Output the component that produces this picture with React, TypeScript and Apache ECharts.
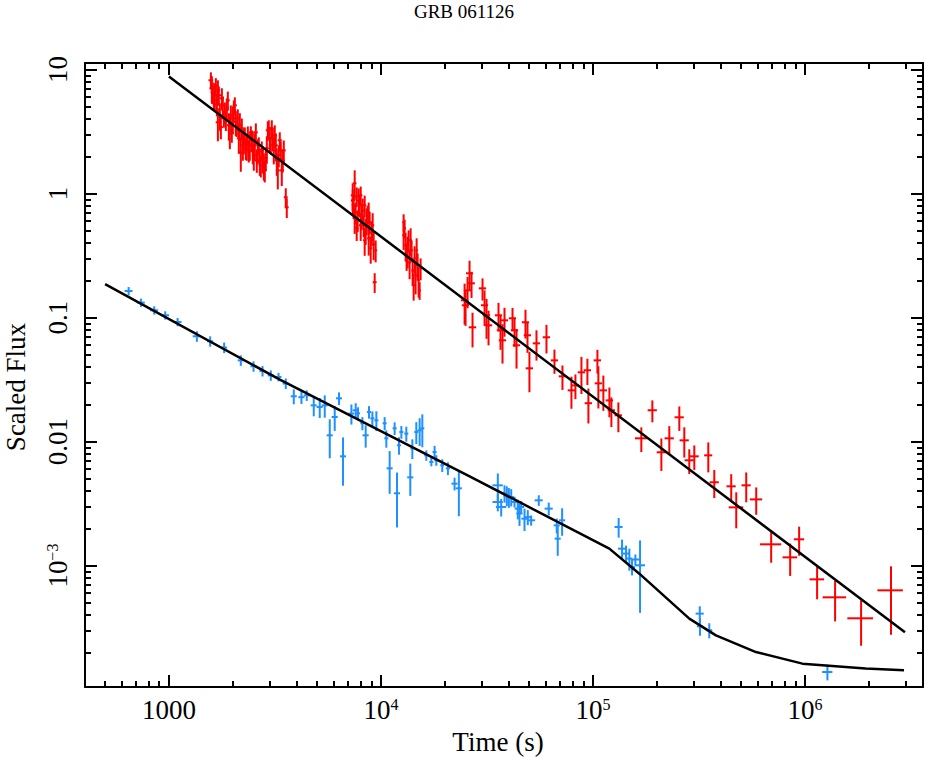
import React, { useEffect, useRef } from "react";
import * as echarts from "echarts";

// ---------- data (time [s], time half-width [s], scaled flux, flux error) ----------
const redOrbit1: number[][] = [
  [1577, 40, 8.2, 1.3], [1612, 40, 6.56, 1.3], [1629, 40, 5.65, 1.0], [1665, 40, 7.33, 1.2],
  [1684, 40, 5.25, 1.05], [1720, 40, 6.21, 1.1], [1739, 40, 4.28, 1.07], [1758, 40, 3.43, 0.69],
  [1796, 40, 5.15, 0.93], [1836, 40, 4.53, 0.9], [1856, 40, 3.9, 0.7], [1896, 40, 5.65, 1.0],
  [1917, 45, 3.56, 0.89], [1959, 45, 4.28, 0.86], [1980, 45, 3.06, 0.49], [2024, 45, 4.7, 0.94],
  [2068, 45, 3.76, 0.86], [2113, 45, 4.05, 0.73], [2136, 45, 2.79, 0.7], [2183, 50, 2.15, 0.65],
  [2207, 50, 3.36, 0.67], [2256, 50, 2.69, 0.62], [2305, 50, 2.32, 0.46], [2356, 50, 2.95, 0.53],
  [2407, 55, 2.45, 0.61], [2460, 55, 2.69, 0.54], [2514, 55, 2.04, 0.51], [2570, 55, 3.12, 0.56],
  [2626, 60, 2.23, 0.51], [2683, 60, 1.85, 0.46], [2742, 60, 2.23, 0.4], [2803, 60, 1.69, 0.42],
  [2864, 65, 1.93, 0.39], [2927, 65, 3.24, 0.58], [2991, 65, 2.79, 0.64], [3056, 65, 3.36, 0.54],
  [3123, 70, 2.23, 0.51], [3192, 70, 2.45, 0.61], [3262, 70, 1.54, 0.46], [3297, 70, 2.04, 0.41],
  [3370, 75, 2.23, 0.4], [3443, 75, 1.85, 0.37], [3557, 75, 0.934, 0.17], [3596, 75, 0.775, 0.14],
  [1594, 40, 7.07, 1.77], [1647, 40, 6.21, 1.55], [1702, 40, 6.8, 1.39], [1702, 40, 3.76, 1.12],
  [1777, 40, 5.87, 1.2], [1816, 40, 4.05, 0.65], [1876, 40, 4.87, 0.99], [1938, 45, 3.24, 0.96],
  [2002, 45, 4.05, 1.01], [2046, 45, 5.15, 0.82], [2091, 45, 3.24, 0.38], [2160, 50, 3.56, 0.89],
  [2232, 50, 2.45, 0.61], [2280, 50, 2.95, 0.47], [2330, 50, 2.45, 0.61], [2381, 55, 2.23, 0.45],
  [2434, 55, 3.12, 0.37], [2487, 55, 2.45, 0.73], [2542, 55, 2.45, 0.61], [2597, 60, 1.85, 0.38],
  [2654, 60, 2.45, 0.39], [2713, 60, 1.69, 0.34], [2772, 60, 1.93, 0.48], [2833, 65, 1.54, 0.31],
  [2895, 65, 2.32, 0.58], [2958, 65, 3.36, 0.54], [3023, 65, 2.45, 0.39], [3090, 70, 2.79, 0.57],
  [3157, 70, 2.95, 0.6], [3227, 70, 1.85, 0.46], [3333, 75, 2.69, 0.43], [3406, 75, 1.54, 0.39],
  [3481, 75, 2.23, 0.45],
];

const redOrbit2: number[][] = [
  [7518, 150, 1.21, 0.33], [7360, 150, 0.88, 0.2], [7436, 150, 0.804, 0.18], [7601, 150, 0.706, 0.14],
  [7684, 150, 0.951, 0.17], [7768, 150, 0.61, 0.12], [7938, 150, 0.804, 0.16], [8025, 150, 0.969, 0.17],
  [8112, 150, 0.668, 0.16], [8290, 150, 0.555, 0.11], [8380, 150, 0.804, 0.16], [8472, 150, 0.506, 0.12],
  [8658, 150, 0.668, 0.13], [8752, 150, 0.436, 0.12], [8847, 150, 0.587, 0.12], [9041, 150, 0.487, 0.11],
  [9239, 150, 0.39, 0.1], [9340, 200, 0.193, 0.035],
  [7357, 150, 0.969, 0.24], [7518, 150, 0.633, 0.16], [7684, 150, 0.525, 0.11], [7852, 150, 0.88, 0.22],
  [8025, 150, 0.555, 0.14], [8200, 150, 0.73, 0.18], [8380, 150, 0.42, 0.105], [8565, 150, 0.61, 0.15],
  [8752, 150, 0.706, 0.14], [8944, 150, 0.362, 0.09], [9139, 150, 0.555, 0.14], [9441, 150, 0.349, 0.07],
];

const redOrbit3: number[][] = [
  [12790, 200, 0.461, 0.11], [12930, 200, 0.525, 0.09], [13070, 200, 0.383, 0.1], [13210, 200, 0.318, 0.08],
  [13500, 200, 0.42, 0.085], [13650, 200, 0.279, 0.075], [13950, 200, 0.349, 0.07], [14100, 200, 0.24, 0.06],
  [14410, 200, 0.301, 0.075], [14570, 200, 0.219, 0.065], [14890, 200, 0.264, 0.065], [15050, 200, 0.2, 0.055],
  [15380, 200, 0.25, 0.05],
  [12790, 200, 0.587, 0.094], [13360, 200, 0.349, 0.1], [13800, 200, 0.42, 0.105], [14260, 200, 0.182, 0.045],
  [14730, 200, 0.349, 0.087], [15220, 200, 0.166, 0.027],
];

const redLate: number[][] = [
  [24800, 1000, 0.1379, 0.05], [25610, 1000, 0.166, 0.047], [26170, 1000, 0.2277, 0.06], [26740, 1000, 0.189, 0.045],
  [25060, 1000, 0.1257, 0.04], [27030, 1100, 0.0835, 0.026], [30130, 1200, 0.1722, 0.035], [30800, 1200, 0.1257, 0.04],
  [31470, 1250, 0.1044, 0.037], [32160, 1300, 0.0867, 0.027], [35840, 1400, 0.1044, 0.027], [36630, 1450, 0.079, 0.024],
  [37430, 1500, 0.0656, 0.023], [38250, 1500, 0.0951, 0.025], [41730, 1650, 0.0987, 0.021], [42640, 1700, 0.079, 0.021],
  [43580, 1750, 0.0598, 0.021], [48040, 1900, 0.0917, 0.024], [49090, 1950, 0.072, 0.02], [50140, 2000, 0.039, 0.014],
  [54130, 2150, 0.062, 0.017], [60330, 2400, 0.0694, 0.018], [65800, 2600, 0.0452, 0.01], [71770, 2850, 0.0336, 0.0075],
  [79120, 3150, 0.0259, 0.0075], [82620, 3300, 0.0284, 0.0064], [88190, 3500, 0.0362, 0.012], [94100, 3750, 0.0376, 0.009],
  [95120, 3800, 0.0204, 0.0064], [104900, 4200, 0.0452, 0.0098], [106000, 4200, 0.0295, 0.011], [111900, 4500, 0.0259, 0.0082],
  [119500, 4800, 0.0215, 0.0058], [122100, 4900, 0.0179, 0.0048], [131700, 5300, 0.0163, 0.0044], [169000, 11300, 0.01063, 0.0024],
  [190500, 9500, 0.0179, 0.0036], [210100, 10500, 0.0082, 0.0024], [229000, 11500, 0.01063, 0.0027], [255300, 12800, 0.0157, 0.0035],
  [269500, 13500, 0.01024, 0.0028], [284500, 14200, 0.00707, 0.0016], [300400, 15000, 0.00761, 0.0017], [349700, 15400, 0.00775, 0.0021],
  [373200, 18700, 0.0047, 0.0012], [448600, 22400, 0.00436, 0.0011], [473800, 37400, 0.00295, 0.00095], [528000, 26400, 0.00444, 0.0012],
  [588500, 39400, 0.00342, 0.00085], [692200, 79600, 0.001485, 0.00043], [850800, 67200, 0.001166, 0.00034], [937900, 52500, 0.00163, 0.00043],
  [1140000, 90000, 0.000775, 0.00024], [1386000, 176000, 0.000555, 0.0002], [1838000, 255000, 0.000376, 0.00015], [2544000, 350000, 0.000632, 0.000355],
];

const bluePoints: number[][] = [
  [645.7, 28, 0.1638, 0.0126], [738, 32, 0.1321, 0.0102], [852.5, 37, 0.1145, 0.0088], [960.7, 42, 0.1044, 0.008],
  [1099, 48, 0.0922, 0.0071], [1355, 60, 0.0707, 0.0069], [1565, 52, 0.0644, 0.0062], [1822, 60, 0.0573, 0.0056],
  [2183, 72, 0.0452, 0.0044], [2506, 83, 0.0405, 0.0039], [2763, 91, 0.0371, 0.0036], [3023, 100, 0.0342, 0.0033],
  [3287, 108, 0.0332, 0.0026], [3557, 117, 0.0294, 0.0029], [3880, 128, 0.0232, 0.0032], [4218, 139, 0.0228, 0.0027],
  [4467, 147, 0.0236, 0.0023], [4820, 159, 0.0196, 0.0036], [5144, 170, 0.019, 0.0035], [5431, 179, 0.0196, 0.004],
  [5734, 189, 0.01124, 0.0039], [6052, 200, 0.0158, 0.0036], [6343, 209, 0.02234, 0.0026], [6622, 218, 0.00761, 0.0032],
  [7254, 239, 0.01682, 0.0031], [7601, 250, 0.01788, 0.0025], [7793, 171, 0.01691, 0.002], [8172, 180, 0.01405, 0.0017],
  [8471, 280, 0.01124, 0.0023], [8780, 193, 0.01733, 0.002], [9109, 200, 0.01541, 0.0021], [9513, 209, 0.01485, 0.0027],
  [10410, 229, 0.01405, 0.0017], [10600, 233, 0.01063, 0.0017], [10990, 363, 0.00609, 0.0023], [11600, 255, 0.0128, 0.0015],
  [11900, 393, 0.00383, 0.0018], [12160, 268, 0.00934, 0.0015], [12480, 275, 0.01195, 0.0014], [13170, 290, 0.0116, 0.0016],
  [13750, 454, 0.00515, 0.0015], [14060, 309, 0.00883, 0.0016], [14680, 323, 0.01195, 0.0024], [15220, 335, 0.01233, 0.0031],
  [15670, 345, 0.0128, 0.0038], [16360, 360, 0.00775, 0.00075], [17280, 380, 0.00685, 0.00053], [17900, 394, 0.00824, 0.001],
  [18240, 401, 0.00707, 0.00069], [19460, 428, 0.00644, 0.00076], [20690, 455, 0.00609, 0.00072], [22240, 734, 0.00458, 0.00054],
  [23300, 769, 0.0042, 0.0017], [35570, 1990, 0.00444, 0.0011], [35570, 1990, 0.00326, 0.00052], [36900, 2070, 0.00297, 0.00048],
  [38250, 1260, 0.00383, 0.00061], [39220, 1290, 0.00369, 0.00067], [40090, 1320, 0.00357, 0.00065], [41140, 1360, 0.00357, 0.00057],
  [42640, 1410, 0.00326, 0.00032], [44190, 1460, 0.00288, 0.00052], [45010, 1490, 0.00263, 0.00054], [45850, 1510, 0.00297, 0.00035],
  [47530, 1570, 0.00239, 0.00049], [49250, 1630, 0.00246, 0.00034], [51090, 2250, 0.00232, 0.00022], [55500, 2440, 0.00336, 0.00033],
  [61840, 2720, 0.00288, 0.00034], [67450, 2230, 0.00211, 0.00029], [68180, 2250, 0.00165, 0.00045], [71520, 2360, 0.00232, 0.00058],
  [132100, 5800, 0.00205, 0.00037], [137100, 6000, 0.00137, 0.00025], [143200, 4700, 0.00125, 0.0002], [148400, 4900, 0.00114, 0.00023],
  [152800, 5000, 0.000974, 0.00014], [158400, 7000, 0.00112, 0.00011], [166700, 9300, 0.001006, 0.00059], [318800, 14000, 0.00041, 0.00006],
  [319500, 10500, 0.000324, 0.000052], [353400, 11600, 0.000301, 0.000042], [1275000, 71000, 0.0001387, 0.00002],
];

// model curves [time, flux]
const redModel: number[][] = [[1000, 8.8], [2960000, 0.00029]];
const blueModel: number[][] = [
  [500, 0.186], [3336, 0.0316], [26180, 0.00525], [119400, 0.00137], [165400, 0.000861],
  [284600, 0.000374], [380000, 0.000274], [586700, 0.000201], [972000, 0.000162], [1930000, 0.000148], [2930000, 0.000143],
];

// axis decades (log10) and labels
const xDecades = [3, 4, 5, 6];
const yDecades = [-3, -2, -1, 0, 1];
const xLabels: Record<number, string> = { 3: "1000", 4: "10{sup|4}", 5: "10{sup|5}", 6: "10{sup|6}" };
const yLabels: Record<number, string> = { 1: "10", 0: "1", [-1]: "0.1", [-2]: "0.01", [-3]: "10{sup|\u22123}" };
const minorMultipliers = [2, 3, 4, 5, 6, 7, 8, 9];

const X_MIN = Math.log10(402);
const X_MAX = Math.log10(3.6e6);
const Y_MIN = Math.log10(1.05e-4);
const Y_MAX = Math.log10(11.3);

const FONT = "'Liberation Serif', 'Times New Roman', serif";
const RED = "#ff0000";
const BLUE = "#1e90ff";

const lg = (v: number) => Math.log10(v);

function minorTicks(lo: number, hi: number): number[] {
  const out: number[] = [];
  for (let d = Math.floor(lo) - 1; d <= Math.ceil(hi); d++) {
    for (const m of minorMultipliers) {
      const v = d + Math.log10(m);
      if (v > lo + 0.005 && v < hi - 0.005) out.push(v);
    }
  }
  return out;
}

function toBars(arr: number[][]) {
  return arr.map(([t, dt, f, df]) => [
    lg(t), lg(t - dt), lg(t + dt), lg(f), lg(Math.max(f - df, 1e-8)), lg(f + df),
  ]);
}

function barRenderer(color: string) {
  return (_params: any, api: any) => {
    const x = api.value(0), xl = api.value(1), xh = api.value(2);
    const y = api.value(3), yl = api.value(4), yh = api.value(5);
    const c = api.coord([x, y]);
    const l = api.coord([xl, y]);
    const r = api.coord([xh, y]);
    const b = api.coord([x, yl]);
    const tp = api.coord([x, yh]);
    return {
      type: "group",
      children: [
        { type: "line", shape: { x1: l[0], y1: c[1], x2: r[0], y2: c[1] }, style: { stroke: color, lineWidth: 2 } },
        { type: "line", shape: { x1: c[0], y1: b[1], x2: c[0], y2: tp[1] }, style: { stroke: color, lineWidth: 2 } },
      ],
    };
  };
}

export default function App() {
  const ref = useRef<HTMLDivElement>(null);

  useEffect(() => {
    if (!ref.current) return;
    const chart = echarts.init(ref.current, null, { renderer: "svg" });

    const xMinor = minorTicks(X_MIN, X_MAX);
    const yMinor = minorTicks(Y_MIN, Y_MAX);
    const line = { show: true, onZero: false, lineStyle: { color: "#000", width: 2 } };
    const noLine = { show: false, onZero: false };
    const labelStyle = { fontFamily: FONT, fontSize: 27, color: "#000" };
    const rich = { sup: { fontFamily: FONT, fontSize: 16, color: "#000", verticalAlign: "top" } };

    const mkX = (pos: string, major: boolean, labels: boolean, extra: any = {}) => ({
      type: "value",
      position: pos,
      min: X_MIN,
      max: X_MAX,
      axisLine: major ? line : noLine,
      splitLine: { show: false },
      axisTick: {
        show: true,
        inside: true,
        length: major ? 12 : 6,
        customValues: major ? xDecades : xMinor,
        lineStyle: { color: "#000", width: 2 },
      },
      axisLabel: labels
        ? { show: true, customValues: xDecades, margin: 9, ...labelStyle, rich, formatter: (v: number) => xLabels[Math.round(v)] ?? "" }
        : { show: false },
      ...extra,
    });
    const mkY = (pos: string, major: boolean, labels: boolean, extra: any = {}) => ({
      type: "value",
      position: pos,
      min: Y_MIN,
      max: Y_MAX,
      axisLine: major ? line : noLine,
      splitLine: { show: false },
      axisTick: {
        show: true,
        inside: true,
        length: major ? 12 : 6,
        customValues: major ? yDecades : yMinor,
        lineStyle: { color: "#000", width: 2 },
      },
      axisLabel: labels
        ? { show: true, customValues: yDecades, rotate: 90, margin: 14, ...labelStyle, rich, formatter: (v: number) => yLabels[Math.round(v)] ?? "" }
        : { show: false },
      ...extra,
    });

    const barSeries = (name: string, data: number[][], color: string) => ({
      type: "custom",
      name,
      xAxisIndex: 0,
      yAxisIndex: 0,
      clip: true,
      renderItem: barRenderer(color),
      encode: { x: [0, 1, 2], y: [3, 4, 5] },
      data: toBars(data),
      z: 2,
    });
    const modelSeries = (name: string, data: number[][]) => ({
      type: "line",
      name,
      xAxisIndex: 0,
      yAxisIndex: 0,
      showSymbol: false,
      symbol: "none",
      lineStyle: { color: "#000", width: 2.5 },
      data: data.map(([t, f]) => [lg(t), lg(f)]),
      z: 5,
      silent: true,
    });

    chart.setOption({
      animation: false,
      backgroundColor: "#fff",
      title: {
        text: "GRB 061126",
        left: "center",
        top: 2,
        padding: 0,
        textStyle: { fontFamily: FONT, fontSize: 19, fontWeight: "normal", color: "#000" },
      },
      grid: { left: 85, right: 5, top: 63, bottom: 70, containLabel: false, outerBoundsMode: "none" },
      xAxis: [
        mkX("bottom", true, true, {
          name: "Time (s)",
          nameLocation: "middle",
          nameGap: 41,
          nameTextStyle: { fontFamily: FONT, fontSize: 27, color: "#000", padding: [0, 12, 0, 0] },
        }),
        mkX("bottom", false, false),
        mkX("top", true, false),
        mkX("top", false, false),
      ],
      yAxis: [
        mkY("left", true, true, {
          name: "Scaled Flux",
          nameLocation: "middle",
          nameGap: 56,
          nameTextStyle: { fontFamily: FONT, fontSize: 27, color: "#000", padding: [0, 24, 0, 0] },
        }),
        mkY("left", false, false),
        mkY("right", true, false),
        mkY("right", false, false),
      ],
      series: [
        barSeries("XRT orbit 1", redOrbit1, RED),
        barSeries("XRT orbit 2", redOrbit2, RED),
        barSeries("XRT orbit 3", redOrbit3, RED),
        barSeries("XRT late", redLate, RED),
        barSeries("Optical", bluePoints, BLUE),
        modelSeries("X-ray model", redModel),
        modelSeries("Optical model", blueModel),
      ],
    });

    return () => chart.dispose();
  }, []);

  return (
    <div
      ref={ref}
      style={{ position: "fixed", left: 0, top: 0, width: 928, height: 757, background: "#fff" }}
    />
  );
}
